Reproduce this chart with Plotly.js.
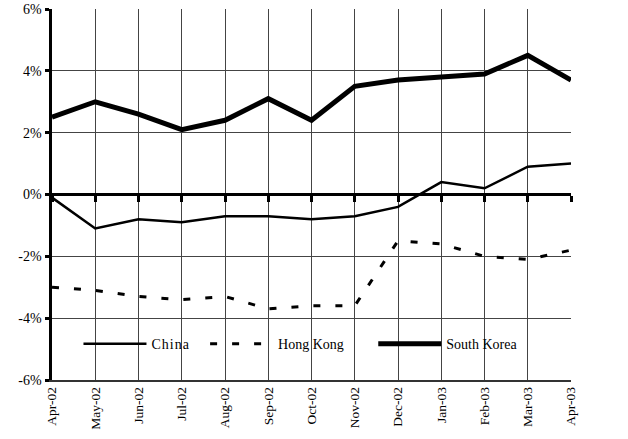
<!DOCTYPE html>
<html><head><meta charset="utf-8">
<script src="https://cdn.plot.ly/plotly-3.0.1.min.js"></script>
<style>html,body{margin:0;padding:0;background:#fff}#chart{width:628px;height:439px}
#chart .legendtext{letter-spacing:1px}</style>
</head><body><div id="chart"></div>
<script>
const months = ["Apr-02","May-02","Jun-02","Jul-02","Aug-02","Sep-02","Oct-02","Nov-02","Dec-02","Jan-03","Feb-03","Mar-03","Apr-03"];
const china = [-0.1,-1.1,-0.8,-0.9,-0.7,-0.7,-0.8,-0.7,-0.4,0.4,0.2,0.9,1.0];
const hongKong = [-3.0,-3.1,-3.3,-3.4,-3.3,-3.7,-3.6,-3.6,-1.5,-1.6,-2.0,-2.1,-1.8];
const southKorea = [2.5,3.0,2.6,2.1,2.4,3.1,2.4,3.5,3.7,3.8,3.9,4.5,3.7];
const yTickVals = [-6,-4,-2,0,2,4,6];
const yTickText = ["-6%","-4%","-2%","0%","2%","4%","6%"];

const fam = "'Liberation Serif', 'Times New Roman', Times, serif";
const f = (s)=>({family:fam, size:s, color:"#000"});
const traces = [
  {x:months, y:china, name:"China", mode:"lines", line:{color:"#000", width:2.5}, legend:"legend"},
  {x:months, y:hongKong, name:"Hong Kong", mode:"lines", line:{color:"#000", width:3, dash:"7px,15px"}, legend:"legend2"},
  {x:months, y:southKorea, name:"South Korea", mode:"lines", line:{color:"#000", width:5}, legend:"legend3"},
  {x:months, y:months.map(()=>null), xaxis:"x2", yaxis:"y2", showlegend:false, hoverinfo:"skip", mode:"lines"}
];
const leg = (x)=>({orientation:"h", x:x, y:0.14, xanchor:"left", yanchor:"top", bgcolor:"rgba(0,0,0,0)",
    font:f(14), itemwidth:63});
const layout = {
  width:628, height:439,
  margin:{l:52, r:57, t:9, b:59},
  paper_bgcolor:"#fff", plot_bgcolor:"rgba(0,0,0,0)",
  font:f(14),
  showlegend:true,
  xaxis:{type:"category", range:[0,12], showgrid:true, gridcolor:"#444", gridwidth:1,
    tickangle:-90, tickfont:f(13.5), ticks:"", showline:true, linecolor:"#333", linewidth:1.5,
    zeroline:false},
  xaxis2:{type:"category", range:[0,12], anchor:"y2", side:"bottom", layer:"above traces",
    showgrid:false, showticklabels:false, ticks:"outside", ticklen:6, tickwidth:3, tickcolor:"#000",
    showline:false, zeroline:false},
  yaxis2:{domain:[0.5,1], range:[0,1], visible:false, showgrid:false, zeroline:false},
  yaxis:{range:[-6,6], tickvals:yTickVals, ticktext:yTickText, showgrid:true, gridcolor:"#444", gridwidth:1,
    ticks:"outside", ticklen:4, tickwidth:3, tickcolor:"#000", showline:true, linecolor:"#000", linewidth:3.5,
    zeroline:true, zerolinecolor:"#000", zerolinewidth:3.5, tickfont:f(14)},
  shapes:[{type:"rect", xref:"paper", yref:"paper", x0:0.04, x1:0.944, y0:0.035, y1:0.167,
    fillcolor:"#fff", line:{width:0}, layer:"between"}],
  legend:leg(0.051),
  legend2:leg(0.295),
  legend3:leg(0.619)
};
Plotly.newPlot("chart", traces, layout, {displayModeBar:false, staticPlot:true});
</script></body></html>
